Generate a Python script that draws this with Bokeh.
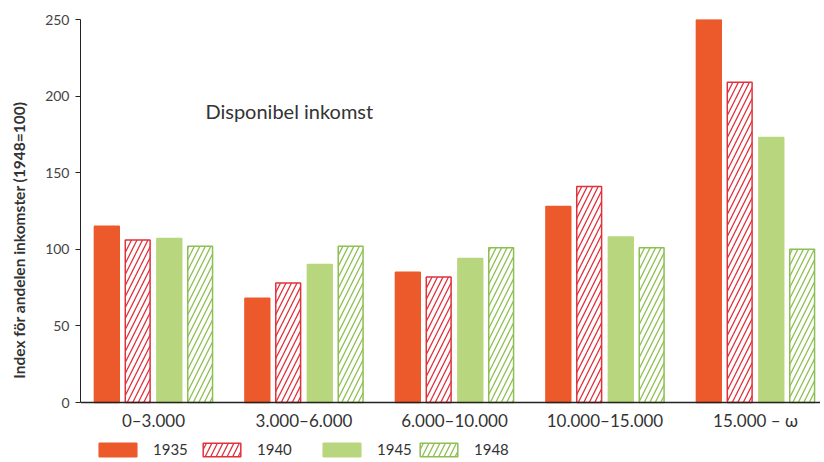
from bokeh.plotting import figure
from bokeh.models import ColumnDataSource, Legend, LegendItem, Label, FixedTicker, Range1d
from bokeh.embed import file_html
from bokeh.resources import INLINE

categories = ["0\u20133.000", "3.000\u20136.000", "6.000\u201310.000", "10.000\u201315.000", "15.000 \u2013 \u03c9"]
years = ["1935", "1940", "1945", "1948"]
v1935 = [115, 68, 85, 128, 250]
v1940 = [106, 78, 82, 141, 209]
v1945 = [107, 90, 94, 108, 173]
v1948 = [102, 102, 101, 101, 100]
y_ticks = [0, 50, 100, 150, 200, 250]

series = [v1935, v1940, v1945, v1948]
offsets = [-0.31, -0.105, 0.105, 0.31]
styles = [
    dict(fill_color="#EC5A2C", line_color="#EC5A2C", hatch_pattern=None),
    dict(fill_color="white", line_color="#E0323C", hatch_pattern="/", hatch_color="#E0323C"),
    dict(fill_color="#B8D67E", line_color="#B8D67E", hatch_pattern=None),
    dict(fill_color="white", line_color="#8EBF52", hatch_pattern="/", hatch_color="#8EBF52"),
]

W, H = 820, 460
px_per_unit = 383 / 250
y_start = -(H - 402) / px_per_unit

p = figure(width=W, height=H, output_backend="svg", toolbar_location=None,
           x_range=Range1d(-0.485, -0.485 + (W - 80) / 150.5), y_range=Range1d(y_start, 250),
           min_border_left=80, min_border_right=0, min_border_top=19, min_border_bottom=0)
p.outline_line_color = None
p.xgrid.grid_line_color = None
p.ygrid.grid_line_color = None
p.background_fill_color = "white"
p.border_fill_color = "white"

renderers = []
xs = list(range(len(categories)))
for vals, off, st in zip(series, offsets, styles):
    src = ColumnDataSource(dict(x=[i + off for i in xs], top=vals))
    kw = dict(fill_color=st["fill_color"], line_color=st["line_color"], line_width=1.5)
    if st["hatch_pattern"]:
        kw.update(hatch_pattern=st["hatch_pattern"], hatch_color=st["hatch_color"],
                  hatch_scale=11, hatch_weight=1.3)
    r = p.vbar(x="x", top="top", width=0.165, bottom=0, source=src, **kw)
    renderers.append(r)

# axes
p.yaxis.ticker = FixedTicker(ticks=y_ticks)
p.yaxis.bounds = (0, 250)
p.yaxis.axis_label = "Index för andelen inkomster (1948=100)"
p.yaxis.axis_label_text_font = "Lato"
p.yaxis.axis_label_text_font_size = "15.5px"
p.yaxis.axis_label_text_font_style = "bold"
p.yaxis.axis_label_text_color = "#333333"
p.yaxis.axis_label_standoff = 14
p.yaxis.major_label_text_font = "Lato"
p.yaxis.major_label_text_font_size = "14px"
p.yaxis.major_label_text_color = "#444444"
p.yaxis.major_label_standoff = 6
p.yaxis.major_tick_out = 5
p.yaxis.major_tick_in = 0
p.yaxis.minor_tick_line_color = None
p.yaxis.axis_line_color = "#222222"
p.yaxis.major_tick_line_color = "#222222"

p.xaxis.fixed_location = 0
p.xaxis.ticker = FixedTicker(ticks=xs)
p.xaxis.major_label_overrides = {i: c for i, c in enumerate(categories)}
p.xaxis.major_label_text_font = "Lato"
p.xaxis.major_label_text_font_size = "17px"
p.xaxis.major_label_text_color = "#333333"
p.xaxis.major_tick_line_color = None
p.xaxis.minor_tick_line_color = None
p.xaxis.major_label_standoff = 1
p.xaxis.axis_line_color = "#222222"
p.xaxis.axis_line_width = 1.5

p.add_layout(Label(x=0.345, y=190, text="Disponibel  inkomst", text_font="Lato",
                   text_font_size="20px", text_color="#333333", text_baseline="middle"))

legend_x = [14, 118, 238, 335]
for r, yr, lx in zip(renderers, years, legend_x):
    lg = Legend(items=[LegendItem(label=yr, renderers=[r])], location=(lx, 2),
                orientation="horizontal", glyph_width=47, glyph_height=17,
                label_standoff=12, padding=0, margin=0, border_line_alpha=0,
                background_fill_alpha=0, label_text_font="Lato",
                label_text_font_size="15px", label_text_color="#333333",
                label_height=17)
    p.add_layout(lg, "center")

open("out.html", "w").write(file_html(p, INLINE))
